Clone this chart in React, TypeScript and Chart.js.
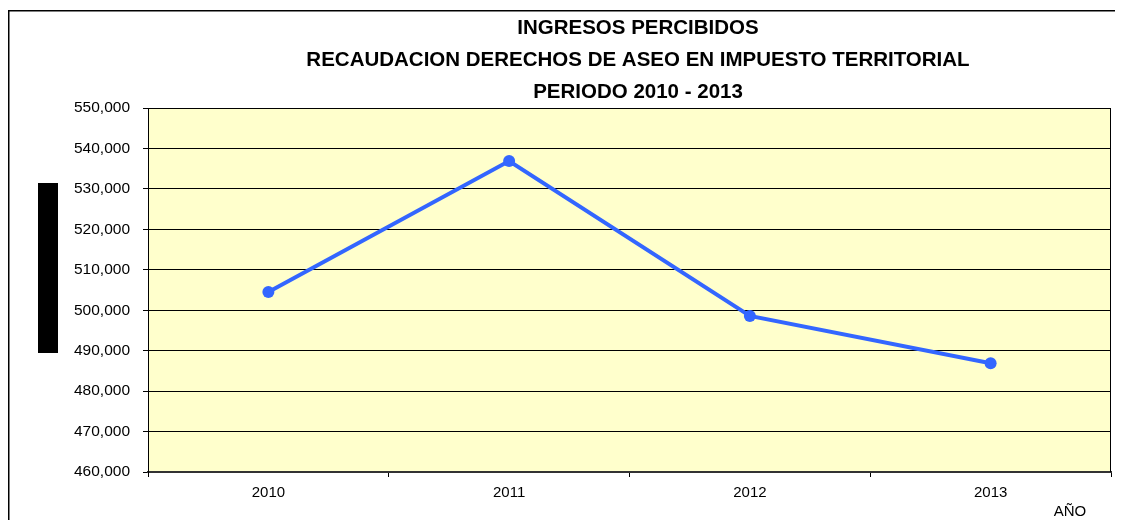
import React, { useEffect, useRef } from "react";
import { Chart, registerables } from "chart.js";

Chart.register(...registerables);

const categories = ["2010", "2011", "2012", "2013"];
const ingresos = [504500, 536900, 498600, 486900];
const titleLines = [
  "INGRESOS PERCIBIDOS",
  "RECAUDACION DERECHOS DE ASEO EN IMPUESTO TERRITORIAL",
  "PERIODO 2010 - 2013",
];
const xAxisTitle = "AÑO";
const yMin = 460000;
const yMax = 550000;
const yStep = 10000;

const FONT = "'Liberation Sans', Arial, sans-serif";

const decorPlugin = {
  id: "decor",
  beforeDraw(chart: any) {
    const { ctx, chartArea } = chart;
    ctx.save();
    ctx.fillStyle = "#FFFFCC";
    ctx.fillRect(chartArea.left, chartArea.top, chartArea.right - chartArea.left, chartArea.bottom - chartArea.top);
    // outer frame (only left and top edges fall inside the view)
    ctx.fillStyle = "#000";
    ctx.fillRect(0, 2, 1.5, chart.height - 2);
    ctx.fillRect(0, 2, chart.width, 1.5);
    // black block left of the axis
    ctx.fillRect(30, 175, 20, 170);
    ctx.restore();
  },
  afterDatasetsDraw(chart: any) {
    const { ctx, chartArea } = chart;
    ctx.save();
    ctx.strokeStyle = "#000";
    ctx.lineWidth = 1;
    ctx.beginPath();
    ctx.moveTo(chartArea.left + 0.5, chartArea.top + 0.5);
    ctx.lineTo(chartArea.right - 0.5, chartArea.top + 0.5);
    ctx.lineTo(chartArea.right - 0.5, chartArea.bottom);
    ctx.stroke();
    ctx.fillStyle = "#000";
    ctx.textAlign = "center";
    ctx.textBaseline = "middle";
    ctx.font = `bold 20.5px ${FONT}`;
    const cx = 630;
    titleLines.forEach((t, i) => ctx.fillText(t, cx, 20 + i * 32));
    ctx.font = `15px ${FONT}`;
    ctx.fillText(xAxisTitle, 1062, 504);
    ctx.restore();
  },
};

export default function App() {
  const ref = useRef<HTMLCanvasElement | null>(null);
  useEffect(() => {
    if (!ref.current) return;
    const chart = new Chart(ref.current, {
      type: "line",
      data: {
        labels: categories,
        datasets: [
          {
            data: ingresos,
            borderColor: "#3366FF",
            backgroundColor: "#3366FF",
            borderWidth: 4,
            pointRadius: 6,
            pointBorderWidth: 0,
            pointBackgroundColor: "#3366FF",
            tension: 0,
          },
        ],
      },
      options: {
        animation: false,
        responsive: false,
        maintainAspectRatio: false,
        layout: { padding: { top: 100, right: 12, left: 0, bottom: 0 } },
        plugins: {
          legend: { display: false },
          tooltip: { enabled: false },
          title: { display: false },
        },
        scales: {
          x: {
            type: "category",
            offset: true,
            afterFit: (s: any) => {
              s.height = 48;
            },
            grid: {
              offset: true,
              drawOnChartArea: false,
              drawTicks: true,
              tickLength: 5,
              color: "#000",
            },
            border: { display: true, color: "#333", width: 2 },
            ticks: {
              color: "#000",
              padding: 7,
              maxRotation: 0,
              font: { family: FONT, size: 15 },
            },
          },
          y: {
            min: yMin,
            max: yMax,
            afterFit: (s: any) => {
              s.width = 140;
            },
            grid: { color: "#000", lineWidth: 1, tickLength: 5, drawTicks: true },
            border: { display: true, color: "#000", width: 1 },
            ticks: {
              stepSize: yStep,
              color: "#000",
              padding: 13,
              font: { family: FONT, size: 15.5 },
              callback: (v: any) => Number(v).toLocaleString("en-US"),
            },
          },
        },
      },
      plugins: [decorPlugin],
    });
    return () => chart.destroy();
  }, []);
  return (
    <div style={{ width: 1115, height: 512 }}>
      <canvas ref={ref} width={1115} height={512} style={{ display: "block" }} />
    </div>
  );
}
